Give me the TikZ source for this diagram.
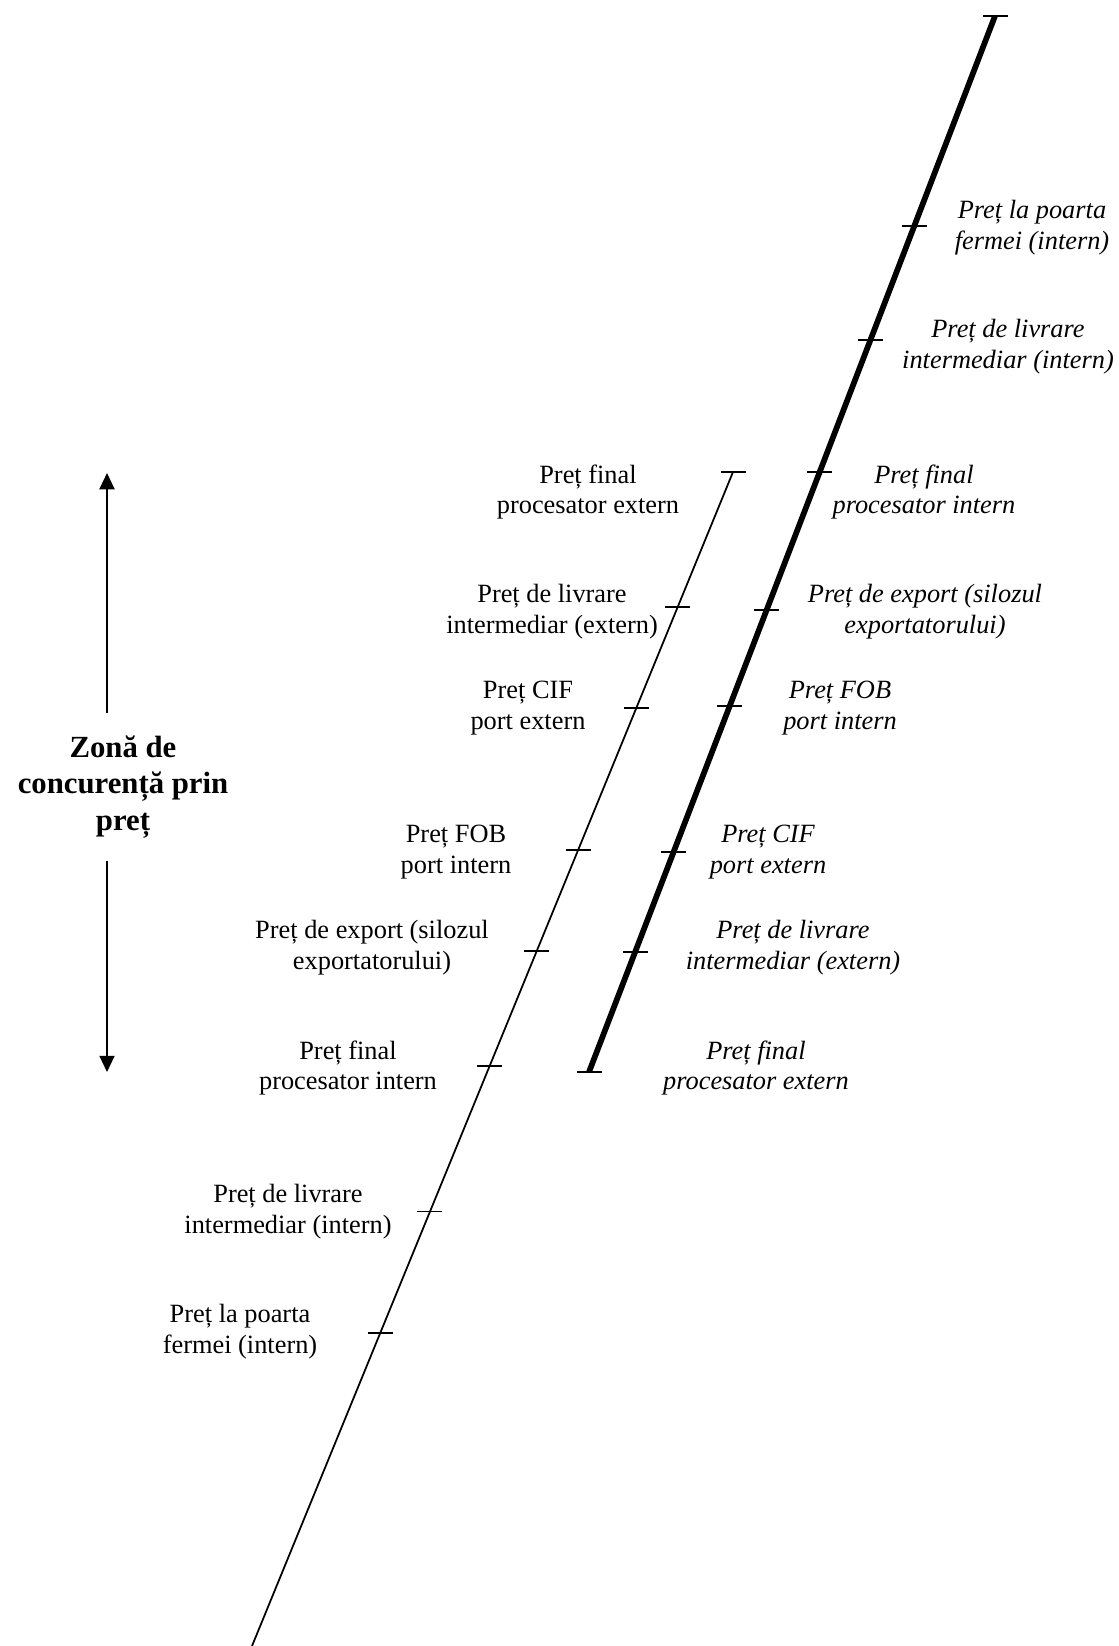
\documentclass[tikz,border=0pt]{standalone}
\usepackage{fontspec}
\setmainfont{Liberation Serif}
\usetikzlibrary{arrows.meta}

\begin{document}
\begin{tikzpicture}[
    x=0.16mm,y=-0.16mm,
    lbl/.style   = {align=center,font=\fontsize{12}{14.1}\selectfont,inner sep=0pt},
    lbli/.style  = {align=center,font=\fontsize{12}{14.1}\selectfont\itshape,inner sep=0pt},
    zone/.style  = {align=center,font=\fontsize{14}{16.6}\selectfont\bfseries,
                    inner sep=0pt,outer ysep=3.7mm},
    thinln/.style  = {line width=0.8pt},
    thickln/.style = {line width=2.6pt},
    tk/.style    = {line width=0.7pt},
    zarr/.style  = {-{Triangle[length=2.6mm,width=2.4mm]},line width=0.9pt},
  ]
  \useasboundingbox (0,0) rectangle (1119,1646);

  \coordinate (kb) at (589,1072);
  \coordinate (kt) at (995,16);
  \coordinate (nb) at (252,1646);
  \coordinate (nt) at (733,472);

  \draw[thickln] (kb) -- (kt)
    coordinate[pos=0.801]  (k1)
    coordinate[pos=0.693]  (k2)
    coordinate[pos=0.568]  (k3)
    coordinate[pos=0.4375] (k4)
    coordinate[pos=0.3466] (k5)
    coordinate[pos=0.2083] (k6)
    coordinate[pos=0.1136] (k7);

  \draw[thinln] (nb) -- (nt)
    coordinate[pos=0.885] (n1)
    coordinate[pos=0.799] (n2)
    coordinate[pos=0.678] (n3)
    coordinate[pos=0.592] (n4)
    coordinate[pos=0.494] (n5)
    coordinate[pos=0.370] (n6)
    coordinate[pos=0.2666] (n7);

  \foreach \k in {kb,kt,nt,k1,k2,k3,k4,k5,k6,k7,n1,n2,n3,n4,n5,n6,n7}
    \draw[tk] (\k) ++(-12.5,0) -- ++(25,0);

  \node[lbli] (r1) at (1032,228)  {Preț la poarta\\fermei (intern)};
  \node[lbli] (r2) at (1008,347)  {Preț de livrare\\intermediar (intern)};
  \node[lbli] (r3) at (924,492)   {Preț final\\procesator intern};
  \node[lbli] (r4) at (925,612)   {Preț de export (silozul\\exportatorului)};
  \node[lbli] (r5) at (840,708)   {Preț FOB\\port intern};
  \node[lbli] (r6) at (768,852)   {Preț CIF\\port extern};
  \node[lbli] (r7) at (793,948)   {Preț de livrare\\intermediar (extern)};
  \node[lbli] (r8) at (756,1068)  {Preț final\\procesator extern};

  \node[lbl] (l1) at (588,492)   {Preț final\\procesator extern};
  \node[lbl] (l2) at (552,612)   {Preț de livrare\\intermediar (extern)};
  \node[lbl] (l3) at (528,708)   {Preț CIF\\port extern};
  \node[lbl] (l4) at (456,852)   {Preț FOB\\port intern};
  \node[lbl] (l5) at (372,948)   {Preț de export (silozul\\exportatorului)};
  \node[lbl] (l6) at (348,1068)  {Preț final\\procesator intern};
  \node[lbl] (l7) at (288,1212)  {Preț de livrare\\intermediar (intern)};
  \node[lbl] (l8) at (240,1332)  {Preț la poarta\\fermei (intern)};

  \node[zone] (zone) at (123,787) {Zonă de\\concurență prin\\preț};
  \coordinate (zt) at (107,473);
  \coordinate (zb) at (107,1072);
  \draw[zarr] (zone.north -| zt) -- (zt);
  \draw[zarr] (zone.south -| zb) -- (zb);

\end{tikzpicture}
\end{document}
